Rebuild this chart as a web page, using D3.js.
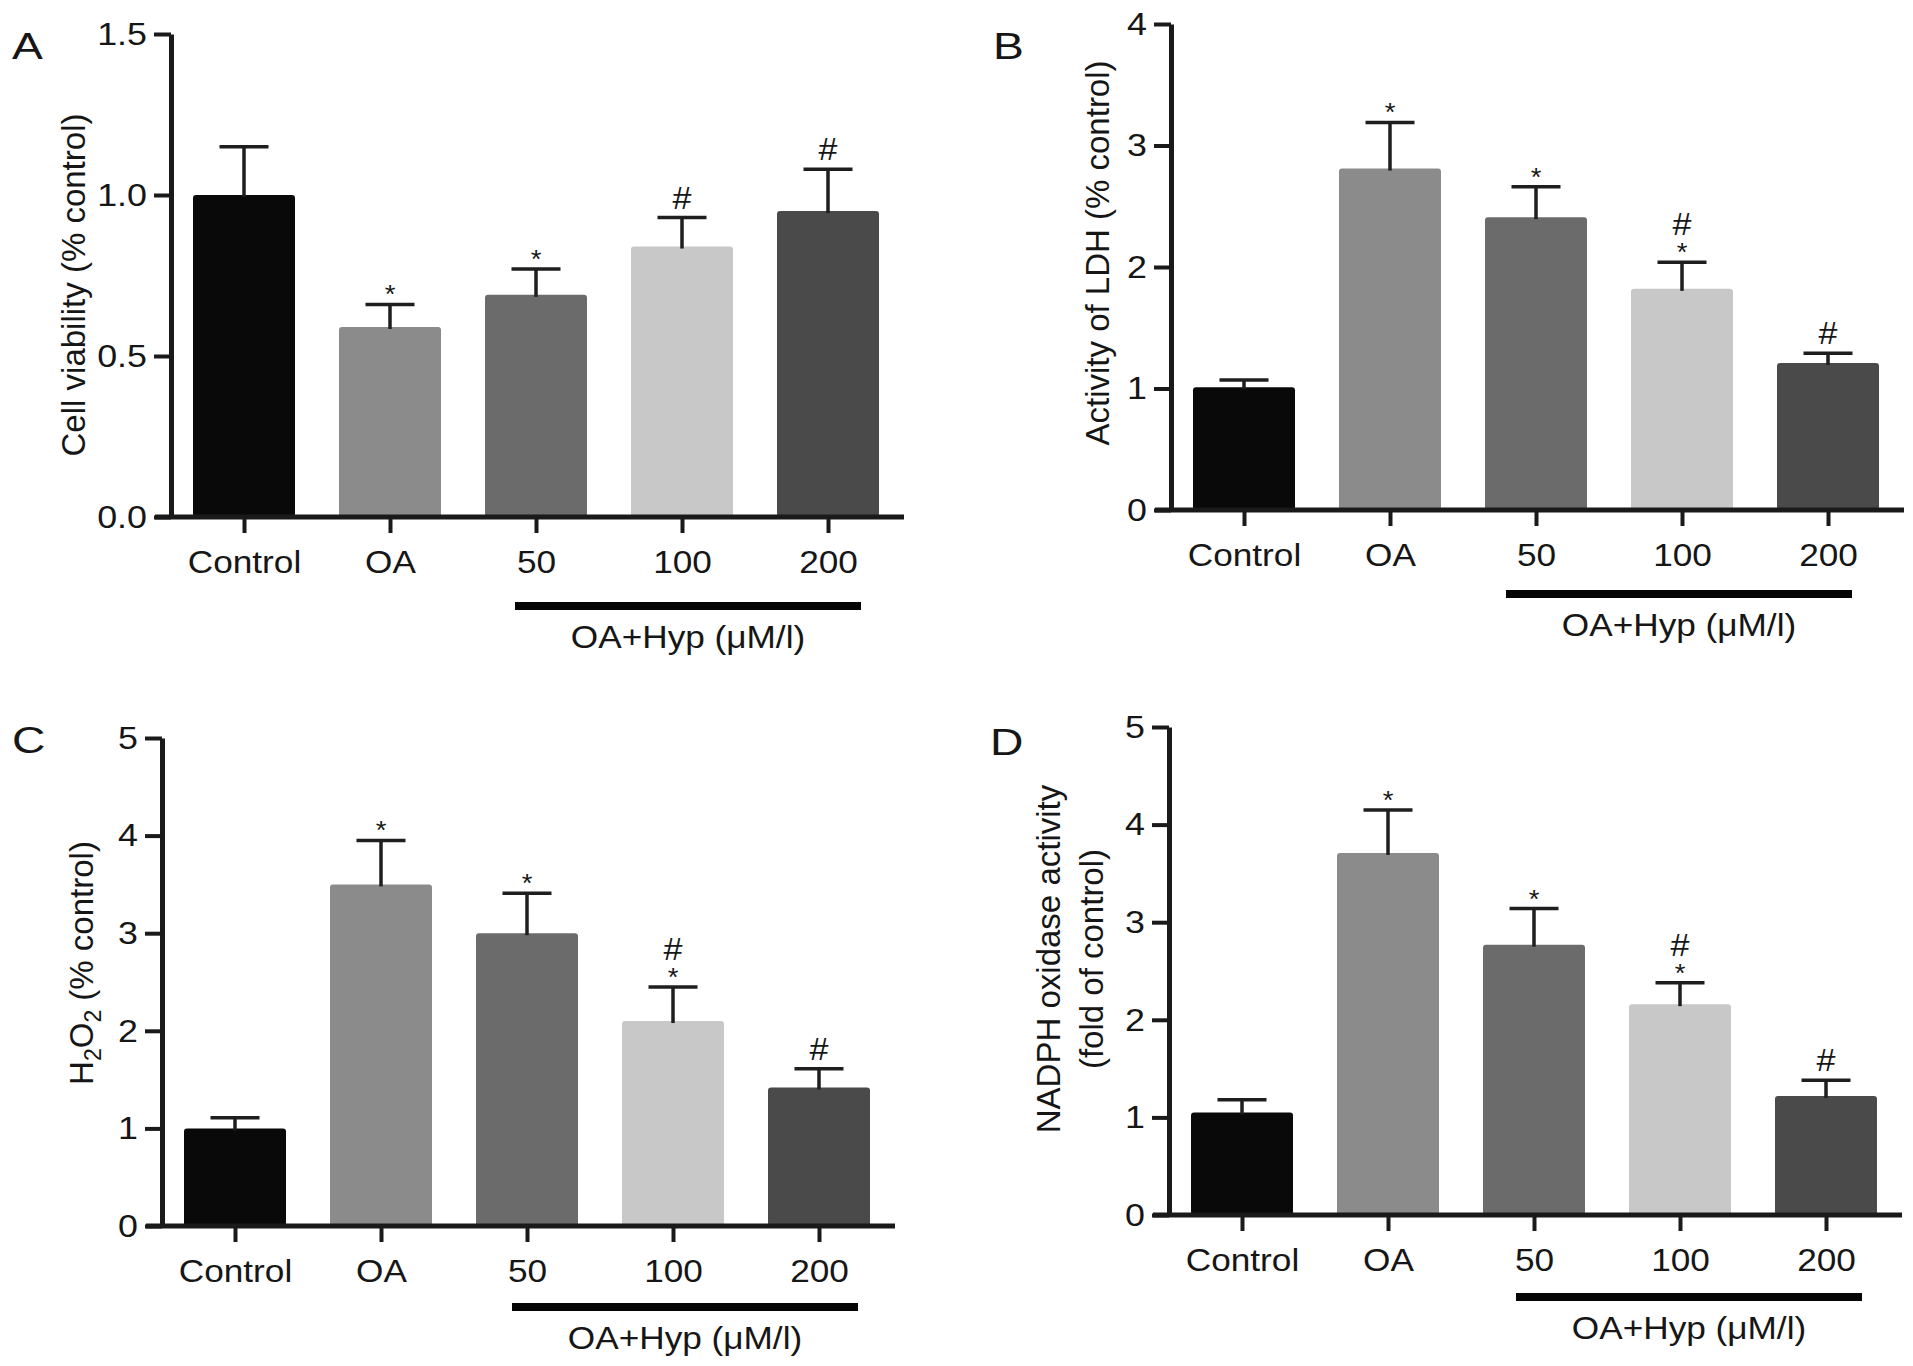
<!DOCTYPE html>
<html>
<head>
<meta charset="utf-8">
<script src="https://cdn.jsdelivr.net/npm/d3@7"></script>
<style>
  body { margin: 0; background: #fff; }
  text { font-family: "Liberation Sans", Arial, Helvetica, sans-serif; fill: #161616; }
</style>
</head>
<body>
<div id="chart"></div>
<script>
// ---- data ----
var categories = ["Control", "OA", "50", "100", "200"];

var viabilityMean = [1.00, 0.59, 0.69, 0.84, 0.95];
var viabilitySem  = [0.15, 0.07, 0.08, 0.09, 0.13];
var viabilitySig  = ["", "*", "*", "#", "#"];
var viabilityTicks = [0, 0.5, 1.0, 1.5];

var ldhMean = [1.01, 2.81, 2.41, 1.82, 1.21];
var ldhSem  = [0.06, 0.38, 0.25, 0.22, 0.08];
var ldhSig  = ["", "*", "*", "#*", "#"];
var ldhTicks = [0, 1, 2, 3, 4];

var h2o2Mean = [1.00, 3.50, 3.00, 2.10, 1.42];
var h2o2Sem  = [0.11, 0.45, 0.41, 0.35, 0.19];
var h2o2Sig  = ["", "*", "*", "#*", "#"];
var h2o2Ticks = [0, 1, 2, 3, 4, 5];

var noxMean = [1.05, 3.71, 2.77, 2.16, 1.22];
var noxSem  = [0.13, 0.44, 0.37, 0.22, 0.16];
var noxSig  = ["", "*", "*", "#*", "#"];
var noxTicks = [0, 1, 2, 3, 4, 5];

var groupLabel = "OA+Hyp (\u03bcM/l)";

// ---- styling ----
var barColors = ["#090909", "#8b8b8b", "#6b6b6b", "#c8c8c8", "#4a4a4a"];
var ink = "#1a1a1a";
var stretch = 1.1;   // the figure's lettering is a little wider than Arial

var svg = d3.select("#chart").append("svg")
    .attr("width", 1913)
    .attr("height", 1366);

var panels = [
  {letter: "A", lx: 12, ly: 59, axisX: 171, y0: 517, y1: 34, max: 1.5, fmt: d3.format(".1f"),
   ticks: viabilityTicks, mean: viabilityMean, sem: viabilitySem, sig: viabilitySig,
   bracketDy: 89, bracketOff: 6, label: ["Cell viability (% control)"], labelX: [85], labelY: 285},
  {letter: "B", lx: 993, ly: 59, axisX: 1171, y0: 510, y1: 24, max: 4, fmt: d3.format("d"),
   ticks: ldhTicks, mean: ldhMean, sem: ldhSem, sig: ldhSig,
   bracketDy: 84, bracketOff: -3, label: ["Activity of LDH (% control)"], labelX: [1109], labelY: 253},
  {letter: "C", lx: 12, ly: 753, axisX: 162, y0: 1226, y1: 738, max: 5, fmt: d3.format("d"),
   ticks: h2o2Ticks, mean: h2o2Mean, sem: h2o2Sem, sig: h2o2Sig,
   bracketDy: 81, bracketOff: 12, label: null, labelX: [93], labelY: 963},
  {letter: "D", lx: 990, ly: 755, axisX: 1169, y0: 1215, y1: 727, max: 5, fmt: d3.format("d"),
   ticks: noxTicks, mean: noxMean, sem: noxSem, sig: noxSig,
   bracketDy: 82, bracketOff: 9, label: ["NADPH oxidase activity", "(fold of control)"], labelX: [1060, 1103], labelY: 959}
];

panels.forEach(drawPanel);

// horizontal text, slightly widened, anchored at (x, y)
function wideText(g, x, y, str, size, anchor, sx) {
  return g.append("text")
      .attr("transform", "translate(" + x + "," + y + ") scale(" + (sx || stretch) + ",1)")
      .attr("text-anchor", anchor || "start")
      .attr("font-size", size)
      .text(str);
}

function drawPanel(p) {
  var g = svg.append("g");

  var x = d3.scalePoint()
      .domain(categories)
      .range([p.axisX + 73, p.axisX + 73 + 4 * 146]);
  var barWidth = 102;

  var y = d3.scaleLinear()
      .domain([0, p.max])
      .range([p.y0, p.y1]);

  var rows = categories.map(function(c, i) {
    return {cat: c, mean: p.mean[i], sem: p.sem[i], sig: p.sig[i], color: barColors[i]};
  });

  // Bars
  g.selectAll(".bar")
      .data(rows)
      .enter().append("rect")
      .attr("class", "bar")
      .attr("x", function(d) { return x(d.cat) - barWidth / 2; })
      .attr("y", function(d) { return y(d.mean); })
      .attr("width", barWidth)
      .attr("height", function(d) { return y(0) - y(d.mean); })
      .attr("rx", 3)
      .attr("fill", function(d) { return d.color; });

  // Error bars (upper only)
  var err = g.selectAll(".err").data(rows).enter().append("g").attr("class", "err")
      .attr("stroke", "#1e1e1e").attr("stroke-width", 3.5);
  err.append("line")
      .attr("x1", function(d) { return x(d.cat); })
      .attr("x2", function(d) { return x(d.cat); })
      .attr("y1", function(d) { return y(d.mean) + 2; })
      .attr("y2", function(d) { return y(d.mean + d.sem); });
  err.append("line")
      .attr("x1", function(d) { return x(d.cat) - 24.5; })
      .attr("x2", function(d) { return x(d.cat) + 24.5; })
      .attr("y1", function(d) { return y(d.mean + d.sem); })
      .attr("y2", function(d) { return y(d.mean + d.sem); });

  // Significance marks
  rows.forEach(function(d) {
    var top = y(d.mean + d.sem);
    var hasStar = d.sig.indexOf("*") >= 0;
    var hasHash = d.sig.indexOf("#") >= 0;
    if (hasStar) wideText(g, x(d.cat), top - 1, "*", 25, "middle");
    if (hasHash) wideText(g, x(d.cat), hasStar ? top - 27 : top - 9, "#", 31, "middle");
  });

  // Y axis
  var yAxis = g.append("g")
      .attr("transform", "translate(" + p.axisX + ",0)")
      .call(d3.axisLeft(y).tickValues(p.ticks).tickFormat(p.fmt)
          .tickSize(17).tickSizeOuter(0).tickPadding(7));
  yAxis.select(".domain").attr("stroke", ink).attr("stroke-width", 5);
  yAxis.selectAll(".tick line").attr("stroke", ink).attr("stroke-width", 4);
  yAxis.selectAll(".tick text")
      .attr("font-size", 32).attr("fill", ink)
      .attr("font-family", "Liberation Sans, Arial, sans-serif")
      .attr("x", -24 / 1.12)
      .attr("transform", "scale(1.12,1)");

  // X axis
  g.append("line")
      .attr("x1", p.axisX - 16)
      .attr("x2", x(categories[4]) + 76)
      .attr("y1", y(0)).attr("y2", y(0))
      .attr("stroke", ink).attr("stroke-width", 5);

  var xAxis = g.append("g")
      .attr("transform", "translate(0," + y(0) + ")")
      .call(d3.axisBottom(x).tickSize(16).tickSizeOuter(0).tickPadding(17));
  xAxis.select(".domain").remove();
  xAxis.selectAll(".tick line").attr("stroke", ink).attr("stroke-width", 4);
  xAxis.selectAll(".tick text")
      .attr("font-size", 32).attr("fill", ink)
      .attr("font-family", "Liberation Sans, Arial, sans-serif")
      .attr("transform", "scale(" + stretch + ",1)");

  // Group bracket
  var bc = x("100") + p.bracketOff;
  var by = y(0) + p.bracketDy;
  g.append("line")
      .attr("x1", bc - 173).attr("x2", bc + 173)
      .attr("y1", by).attr("y2", by)
      .attr("stroke", "#050505").attr("stroke-width", 8);
  wideText(g, bc, by + 42, groupLabel, 32, "middle");

  // Y label
  if (p.label) {
    p.label.forEach(function(line, i) {
      g.append("text")
          .attr("transform", "translate(" + p.labelX[i] + "," + p.labelY + ") rotate(-90)")
          .attr("text-anchor", "middle").attr("font-size", 33)
          .text(line);
    });
  } else {
    var t = g.append("text")
        .attr("transform", "translate(" + p.labelX[0] + "," + p.labelY + ") rotate(-90)")
        .attr("text-anchor", "middle").attr("font-size", 33);
    t.append("tspan").text("H");
    t.append("tspan").attr("dy", 8).attr("font-size", 23).text("2");
    t.append("tspan").attr("dy", -8).text("O");
    t.append("tspan").attr("dy", 8).attr("font-size", 23).text("2");
    t.append("tspan").attr("dy", -8).text(" (% control)");
  }

  // Panel letter
  wideText(g, p.lx, p.ly, p.letter, 37, "start", 1.25);
}
</script>
</body>
</html>
